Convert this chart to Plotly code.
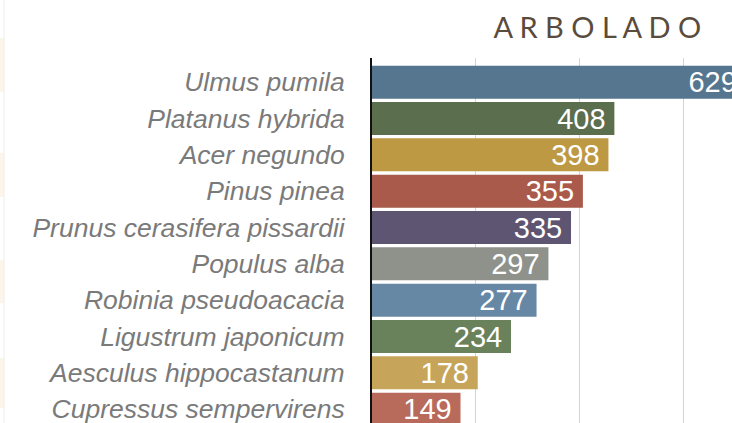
import plotly.graph_objects as go

especies = ['Ulmus pumila', 'Platanus hybrida', 'Acer negundo', 'Pinus pinea',
            'Prunus cerasifera pissardii', 'Populus alba', 'Robinia pseudoacacia',
            'Ligustrum japonicum', 'Aesculus hippocastanum', 'Cupressus sempervirens']
arboles = [629, 408, 398, 355, 335, 297, 277, 234, 178, 149]
colores = ['#56768f', '#5b6e4d', '#bd9944', '#a95a4a', '#5e5572',
           '#8e928b', '#6688a4', '#6a825c', '#c6a459', '#b86a5b']

W, H, L, T = 732, 423, 372, 58

fig = go.Figure()
fig.add_trace(go.Bar(
    x=arboles, y=especies, orientation='h',
    marker=dict(color=colores, line=dict(width=0)),
    texttemplate='%{x}\u2009', textposition='inside', insidetextanchor='end',
    textangle=0, constraintext='none',
    textfont=dict(family='Liberation Sans', size=29, color='white'),
    hoverinfo='skip',
))

# restos de la pagina a la izquierda (bandas beige muy tenues)
def px_x(p):
    return (p - L) / (W - L)

def px_y(p):
    return (H - p) / (H - T)

for top, bot in [(38, 92), (153, 197), (260, 303), (358, 408)]:
    fig.add_shape(type='rect', xref='paper', yref='paper',
                  x0=px_x(0), x1=px_x(4), y0=px_y(bot), y1=px_y(top),
                  fillcolor='#fbf5ea', line=dict(width=0), layer='below')
fig.add_shape(type='line', xref='paper', yref='paper',
              x0=px_x(4), x1=px_x(4), y0=px_y(H), y1=px_y(0),
              line=dict(color='#eeeeee', width=1))

fig.update_layout(
    width=W, height=H,
    margin=dict(l=L, r=0, t=T, b=0),
    paper_bgcolor='white', plot_bgcolor='white',
    showlegend=False, bargap=0.092,
    title=dict(text='A R B O L A D O', x=0.816, xanchor='center', y=0.934, yanchor='middle',
               font=dict(family='Lato', size=29, color='#5a4b3d', weight=400)),
)
fig.update_xaxes(range=[0, 606], dtick=175, tick0=0, showticklabels=False,
                 showgrid=True, gridcolor='#d4d4d4', gridwidth=1, zeroline=False)
fig.update_yaxes(range=[9.38, -0.665], showline=True, linecolor='#111111', linewidth=2,
                 ticks='', ticklabelstandoff=20, showgrid=False,
                 tickfont=dict(family='Liberation Sans', size=26.5, color='#7a7a7a', style='italic'))

fig.write_html('out.html', config={'displayModeBar': False},
               post_script="document.body.style.margin='0';document.body.style.overflow='hidden';")
